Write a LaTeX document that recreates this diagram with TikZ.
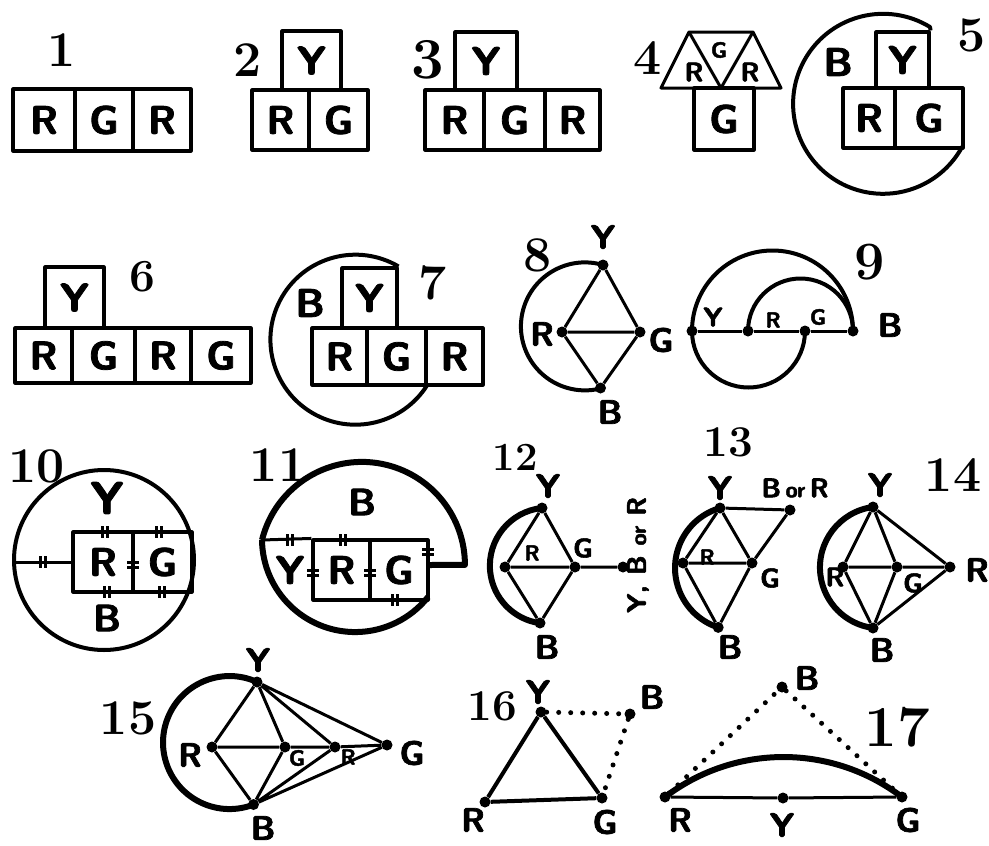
\documentclass[tikz,border=0pt]{standalone}
\usepackage{fontspec}
\usetikzlibrary{calc}
\newfontfamily\hand{lmsans10-bold.otf}[FakeBold=2]
\newcommand\fBox{\hand\fontsize{40}{40}\selectfont}
\newcommand\fLab{\hand\fontsize{34}{34}\selectfont}
\newcommand\fMid{\hand\fontsize{27}{27}\selectfont}
\newcommand\fSm{\hand\fontsize{22}{22}\selectfont}
\newcommand\fNum{\rmfamily\bfseries\fontsize{50}{50}\selectfont}
\newcommand\tickV[2]{\draw[line width=2.2pt] (#1-2.5,#2-6) -- (#1-2.5,#2+6) (#1+2.5,#2-6) -- (#1+2.5,#2+6);}
\newcommand\tickH[2]{\draw[line width=2.2pt] (#1-6,#2-2.5) -- (#1+6,#2-2.5) (#1-6,#2+2.5) -- (#1+6,#2+2.5);}
\tikzset{
 cell/.style={draw, line width=3.1pt, inner sep=0pt, font=\fBox},
 lab/.style={inner sep=0pt, font=\fLab},
 mid/.style={inner sep=0pt, font=\fMid},
 sm/.style={inner sep=0pt, font=\fSm},
 num/.style={inner sep=0pt, font=\fNum},
 dot/.style={circle, fill, inner sep=0pt, minimum size=11pt},
 edge/.style={line width=3pt},
 ring/.style={line width=4pt},
 heavy/.style={line width=6pt},
 dots/.style={line width=5pt, line cap=round, dash pattern=on 0pt off 12pt},
}
\begin{document}
\begin{tikzpicture}[x=1pt,y=-1pt, line join=round]
\useasboundingbox[fill=white] (0,0) rectangle (989,846);
% ---------- 1
\node[num] (n1) at (62,50) {1};
\node[cell, minimum width=62pt, minimum height=62pt] (c1a) at (44,120) {R};
\node[cell, minimum width=58pt, minimum height=62pt] (c1b) at (104,120) {G};
\node[cell, minimum width=58pt, minimum height=62pt] (c1c) at (162,120) {R};
% ---------- 2
\node[num] (n2) at (248,60) {2};
\node[cell, minimum width=59pt, minimum height=59pt] (c2y) at (311.5,60.5) {Y};
\node[cell, minimum width=57pt, minimum height=60pt] (c2r) at (280.5,120) {R};
\node[cell, minimum width=59pt, minimum height=60pt] (c2g) at (338.5,120) {G};
% ---------- 3
\node[num, font=\rmfamily\bfseries\fontsize{58}{58}\selectfont] (n3) at (428,60) {3};
\node[cell, minimum width=62pt, minimum height=58pt] (c3y) at (486,61) {Y};
\node[cell, minimum width=59pt, minimum height=60pt] (c3a) at (454.5,120) {R};
\node[cell, minimum width=61pt, minimum height=60pt] (c3b) at (514.5,120) {G};
\node[cell, minimum width=55pt, minimum height=60pt] (c3c) at (572.5,120) {R};
% ---------- 4
\node[num] (n4) at (648,58) {4};
\coordinate (t4a) at (661,88);
\coordinate (t4b) at (689,32);
\coordinate (t4c) at (721,88);
\coordinate (t4d) at (753,32);
\coordinate (t4e) at (781,88);
\draw[edge] (t4a) -- (t4b) -- (t4d) -- (t4e) -- cycle;
\draw[edge] (t4b) -- (t4c) -- (t4d);
\node[mid] (l4a) at (694,72) {R};
\node[sm] (l4b) at (719,50) {G};
\node[mid] (l4c) at (750,72) {R};
\node[cell, minimum width=60pt, minimum height=62pt] (c4g) at (724,119) {G};
% ---------- 5
\node[num] (n5) at (972,35) {5};
\node[cell, minimum width=53pt, minimum height=56pt] (c5y) at (902.5,60) {Y};
\node[cell, minimum width=52pt, minimum height=60pt] (c5r) at (869,118) {R};
\node[cell, minimum width=68pt, minimum height=60pt] (c5g) at (929,118) {G};
\node[lab, font=\hand\fontsize{40}{40}\selectfont] (l5b) at (838,62) {B};
\coordinate (h5) at (930,27);
\draw[ring] (c5y.north east) -- (h5) arc[start angle=58.6, end angle=331.7, radius=90pt];
% ---------- 6
\node[num, font=\rmfamily\bfseries\fontsize{46}{46}\selectfont] (n6) at (142,277) {6};
\node[cell, minimum width=59pt, minimum height=61pt] (c6y) at (74.5,297.5) {Y};
\node[cell, minimum width=57pt, minimum height=55pt] (c6a) at (43.5,355.5) {R};
\node[cell, minimum width=63pt, minimum height=55pt] (c6b) at (103.5,355.5) {G};
\node[cell, minimum width=56pt, minimum height=55pt] (c6c) at (163,355.5) {R};
\node[cell, minimum width=60pt, minimum height=55pt] (c6d) at (221,355.5) {G};
% ---------- 7
\node[num] (n7) at (433,283) {7};
\node[cell, minimum width=55pt, minimum height=60pt] (c7y) at (369.5,298) {Y};
\node[cell, minimum width=55pt, minimum height=57pt] (c7a) at (339.5,356.5) {R};
\node[cell, minimum width=59pt, minimum height=57pt] (c7b) at (396.5,356.5) {G};
\node[cell, minimum width=57pt, minimum height=57pt] (c7c) at (454.5,356.5) {R};
\node[lab, font=\hand\fontsize{40}{40}\selectfont] (l7b) at (310,303) {B};
\draw[ring] (c7y.north east) arc[start angle=59.5, end angle=327.5, radius=85pt];
% ---------- 8
\node[num] (n8) at (538,255) {8};
\node[dot] (Y8) at (603,265) {};
\node[dot] (R8) at (562,332) {};
\node[dot] (G8) at (640,332) {};
\node[dot] (B8) at (600.5,388) {};
\draw[edge] (Y8) -- (R8) (Y8) -- (G8) (R8) -- (G8) (R8) -- (B8) (G8) -- (B8);
\draw[ring] (Y8.center) arc[start angle=73.6, end angle=284, radius=64pt];
\node[lab] (l8y) at (603,237) {Y};
\node[lab] (l8r) at (542,334) {R};
\node[lab] (l8g) at (661,340) {G};
\node[lab] (l8b) at (610,412) {B};
% ---------- 9
\node[num, font=\rmfamily\bfseries\fontsize{54}{54}\selectfont] (n9) at (870,262) {9};
\node[dot] (Y9) at (692,331) {};
\node[dot] (R9) at (748,331) {};
\node[dot] (G9) at (805,331) {};
\node[dot] (B9) at (853,331) {};
\draw[edge] (Y9) -- (R9) -- (G9) -- (B9);
\draw[ring] (Y9.center) arc[start angle=180, end angle=0, radius=80.5pt];
\draw[ring] (R9.center) arc[start angle=180, end angle=0, radius=52.5pt];
\draw[ring] (Y9.center) arc[start angle=180, end angle=360, radius=56.5pt];
\node[mid] (l9y) at (713,317) {Y};
\node[sm] (l9r) at (773,320) {R};
\node[sm] (l9g) at (818,317) {G};
\node[lab] (l9b) at (890,325) {B};
% ---------- 10
\node[num] (n10) at (37,466) {10};
\node[circle, draw, ring, minimum size=180pt, inner sep=0pt] (o10) at (104,560) {};
\node[cell, minimum width=60pt, minimum height=60pt] (c10r) at (103,562) {R};
\node[cell, minimum width=59pt, minimum height=60pt] (c10g) at (162.5,562) {G};
\draw[edge] (o10.west |- c10r.west) -- (c10r.west);
\node[inner sep=0pt, font=\hand\fontsize{46}{46}\selectfont] (l10y) at (107,498) {Y};
\node[lab, font=\hand\fontsize{38}{38}\selectfont] (l10b) at (107,618) {B};
\tickV{43}{562}
\tickV{105}{532}
\tickV{159}{532}
\tickV{107}{592}
\tickV{162}{592}
\tickH{133}{565}
% ---------- 11
\node[num] (n11) at (278,465) {11};
\coordinate (a11) at (262,540);
\coordinate (e11) at (465,565);
\node[cell, minimum width=57pt, minimum height=60pt] (c11r) at (341.5,570) {R};
\node[cell, minimum width=58pt, minimum height=60pt] (c11g) at (399,570) {G};
\draw[edge] (a11) -- (c11r.north west);
\draw[heavy] (a11) arc[start angle=166, end angle=0, radius=103pt] -- (e11 -| c11g.east);
\draw[heavy] (a11) arc[start angle=180.7, end angle=321.4, radius=93.2pt];
\node[lab, font=\hand\fontsize{38}{38}\selectfont] (l11b) at (362,502) {B};
\node[inner sep=0pt, font=\fBox] (l11y) at (290,570) {Y};
\tickV{290}{540}
\tickV{343}{540}
\tickH{313}{573}
\tickH{370}{573}
\tickH{428}{552}
\tickV{395}{600}
% ---------- 12
\node[num, font=\rmfamily\bfseries\fontsize{40}{40}\selectfont] (n12) at (515,457) {12};
\node[dot] (Y12) at (542,508) {};
\node[dot] (L12) at (505,567) {};
\node[dot] (G12) at (575,567) {};
\node[dot] (B12) at (540,623) {};
\node[dot] (X12) at (623,567) {};
\draw[edge] (Y12) -- (L12) (Y12) -- (G12) (L12) -- (G12) (L12) -- (B12) (G12) -- (B12) (G12) -- (X12);
\draw[heavy] (Y12.center) arc[start angle=95.8, end angle=261.9, radius=58pt];
\node[lab] (l12y) at (548,486) {Y};
\node[sm] (l12r) at (532,553) {R};
\node[mid] (l12g) at (583,548) {G};
\node[lab] (l12b) at (547,647) {B};
\node[mid, rotate=90] (l12x) at (638,555) {Y, B {\fSm or} R};
% ---------- 13
\node[num, font=\rmfamily\bfseries\fontsize{44}{44}\selectfont] (n13) at (728,442) {13};
\node[dot] (Y13) at (720,508) {};
\node[dot] (T13) at (790,510) {};
\node[dot] (L13) at (683,563) {};
\node[dot] (G13) at (752,563) {};
\node[dot] (B13) at (718.2,627.4) {};
\draw[edge] (Y13) -- (L13) (Y13) -- (G13) (L13) -- (G13) (L13) -- (B13) (G13) -- (B13) (T13) -- (G13) (Y13) -- (T13);
\draw[heavy] (Y13.center) arc[start angle=106.3, end angle=252, radius=62.5pt];
\node[lab] (l13y) at (720,488) {Y};
\node[mid] (l13t) at (795,488) {B\,{\fSm or}\,R};
\node[sm] (l13r) at (707,557) {R};
\node[mid] (l13g) at (770,578) {G};
\node[lab] (l13b) at (730,647) {B};
% ---------- 14
\node[num] (n14) at (953,475) {14};
\node[dot] (Y14) at (873,507) {};
\node[dot] (L14) at (843,567) {};
\node[dot] (G14) at (897,567) {};
\node[dot] (R14) at (950,567) {};
\node[dot] (B14) at (873,628) {};
\draw[edge] (Y14) -- (L14) (Y14) -- (G14) (Y14) -- (R14) (L14) -- (G14) (G14) -- (R14) (L14) -- (B14) (G14) -- (B14) (R14) -- (B14);
\draw[heavy] (Y14.center) arc[start angle=97.5, end angle=262.5, radius=61pt];
\node[lab] (l14y) at (880,485) {Y};
\node[mid] (l14r) at (835,577) {R};
\node[mid] (l14g) at (913,583) {G};
\node[lab] (l14x) at (977,570) {R};
\node[lab] (l14b) at (882,650) {B};
% ---------- 15
\node[num] (n15) at (128,718) {15};
\node[dot] (Y15) at (257,682) {};
\node[dot] (R15) at (212,747) {};
\node[dot] (G15) at (285,747) {};
\node[dot] (K15) at (335,747) {};
\node[dot] (H15) at (387,745) {};
\node[dot] (B15) at (253.5,804.5) {};
\draw[edge] (Y15) -- (R15) (Y15) -- (G15) (Y15) -- (K15) (Y15) -- (H15)
  (R15) -- (G15) -- (K15) -- (H15)
  (R15) -- (B15) (G15) -- (B15) (K15) -- (B15) (H15) -- (B15);
\draw[heavy] (Y15.center) arc[start angle=65.6, end angle=291.2, radius=66.5pt];
\node[lab] (l15y) at (258,660) {Y};
\node[lab] (l15r) at (190,755) {R};
\node[sm] (l15g) at (297,758) {G};
\node[sm] (l15k) at (348,757) {R};
\node[lab] (l15h) at (412,753) {G};
\node[lab] (l15b) at (263,828) {B};
% ---------- 16
\node[num, font=\rmfamily\bfseries\fontsize{44}{44}\selectfont] (n16) at (492,706) {16};
\node[dot] (Y16) at (541,712) {};
\node[dot] (B16) at (630,714) {};
\node[dot] (R16) at (485,802) {};
\node[dot] (G16) at (602,798) {};
\draw[line width=4pt] (Y16) -- (R16) -- (G16) -- (Y16);
\draw[dots] (Y16) -- (B16) -- (G16);
\node[lab] (l16y) at (538,692) {Y};
\node[lab] (l16b) at (652,697) {B};
\node[lab] (l16r) at (473,820) {R};
\node[lab] (l16g) at (605,822) {G};
% ---------- 17
\node[num, font=\rmfamily\bfseries\fontsize{58}{58}\selectfont] (n17) at (897,727) {17};
\node[dot] (B17) at (782,687) {};
\node[dot] (R17) at (665,797) {};
\node[dot] (Y17) at (783,798) {};
\node[dot] (G17) at (902,797) {};
\draw[edge] (R17) -- (Y17) -- (G17);
\draw[heavy] (R17.center) arc[start angle=127.3, end angle=52.7, radius=195.5pt];
\draw[dots] (R17) -- (B17) -- (G17);
\node[lab] (l17b) at (807,678) {B};
\node[lab] (l17r) at (680,820) {R};
\node[lab] (l17y) at (782,825) {Y};
\node[lab] (l17g) at (908,820) {G};
\end{tikzpicture}
\end{document}
